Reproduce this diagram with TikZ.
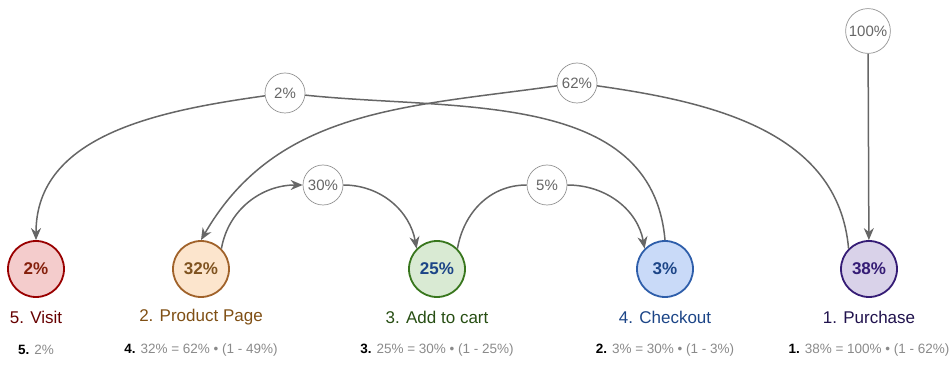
\documentclass[tikz,border=0pt]{standalone}
\usepackage{fontspec}
\setmainfont{Liberation Sans}
\usetikzlibrary{arrows.meta}
\definecolor{edge}{HTML}{666666}
\definecolor{eqgray}{HTML}{8A8A8A}
\definecolor{visF}{HTML}{F4CCCC}\definecolor{visD}{HTML}{990000}\definecolor{visT}{HTML}{85200C}\definecolor{visL}{HTML}{660000}
\definecolor{prdF}{HTML}{FCE5CD}\definecolor{prdD}{HTML}{A0622A}\definecolor{prdT}{HTML}{7F5320}\definecolor{prdL}{HTML}{7F4F14}
\definecolor{crtF}{HTML}{D9EAD3}\definecolor{crtD}{HTML}{38761D}\definecolor{crtT}{HTML}{1C4587}\definecolor{crtL}{HTML}{274E13}
\definecolor{chkF}{HTML}{C9DAF8}\definecolor{chkD}{HTML}{2E5EAA}\definecolor{chkT}{HTML}{1C4587}\definecolor{chkL}{HTML}{1C4587}
\definecolor{purF}{HTML}{D9D2E9}\definecolor{purD}{HTML}{351C75}\definecolor{purT}{HTML}{351C75}\definecolor{purL}{HTML}{20124D}
\begin{document}
\begin{tikzpicture}[x=1pt,y=1pt,
  stage/.style={circle,minimum size=56pt,inner sep=0pt,line width=1.8pt,font=\fontsize{17}{20}\selectfont\bfseries},
  rate/.style={circle,draw=edge!70,line width=0.7pt,minimum size=40pt,inner sep=2pt,text=edge,fill=white,font=\fontsize{15}{18}\selectfont},
  flow/.style={draw=edge,line width=1.5pt},
  tip/.style={-{Stealth[length=12pt,width=10pt]}}]
  \useasboundingbox (0,0) rectangle (952,364);
  % stages of the funnel
  \foreach \n/\x/\p/\col/\l/\f in {visit/36/2/vis/5. Visit/{\textcolor{black}{\textbf{5.}} 2\%},
      prod/201/32/prd/2. Product Page/{\textcolor{black}{\textbf{4.}} 32\% = 62\% • (1 - 49\%)},
      cart/437/25/crt/3. Add to cart/{\textcolor{black}{\textbf{3.}} 25\% = 30\% • (1 - 25\%)},
      chk/665/3/chk/4. Checkout/{\textcolor{black}{\textbf{2.}} 3\% = 30\% • (1 - 3\%)},
      pur/869/38/pur/1. Purchase/{\textcolor{black}{\textbf{1.}} 38\% = 100\% • (1 - 62\%)}}{
    \node[stage,fill=\col F,draw=\col D,text=\col T] (\n) at (\x,95) {\p\%};
    \node[text=\col L,font=\fontsize{17}{20}\selectfont] (\n-lbl) at (\x,47) {\l};
    \node[text=eqgray,font=\fontsize{13.5}{16}\selectfont] (\n-eq) at (\x,14) {\f};
  }
  % rates
  \node[rate] (r100) at (868,333) {100\%};
  \node[rate] (r62) at (577,281) {62\%};
  \node[rate] (r2) at (285,271) {2\%};
  \node[rate] (r30) at (323,179) {30\%};
  \node[rate] (r5) at (547,179) {5\%};
  % flows
  \draw[flow,tip] (r100) -- (pur);
  \draw[flow] (pur.135) to[out=95,in=-8] (r62);
  \draw[flow,tip] (r62) to[out=188,in=60] (prod.north);
  \draw[flow] (chk.north) to[out=95,in=-6] (r2);
  \draw[flow,tip] (r2) to[out=188,in=90] (visit.north);
  \draw[flow,tip] (prod.45) to[out=80,in=180] (r30);
  \draw[flow,tip] (r30) to[out=0,in=100] (cart.135);
  \draw[flow] (cart.45) to[out=80,in=180] (r5);
  \draw[flow,tip] (r5) to[out=0,in=100] (chk.135);
\end{tikzpicture}
\end{document}
